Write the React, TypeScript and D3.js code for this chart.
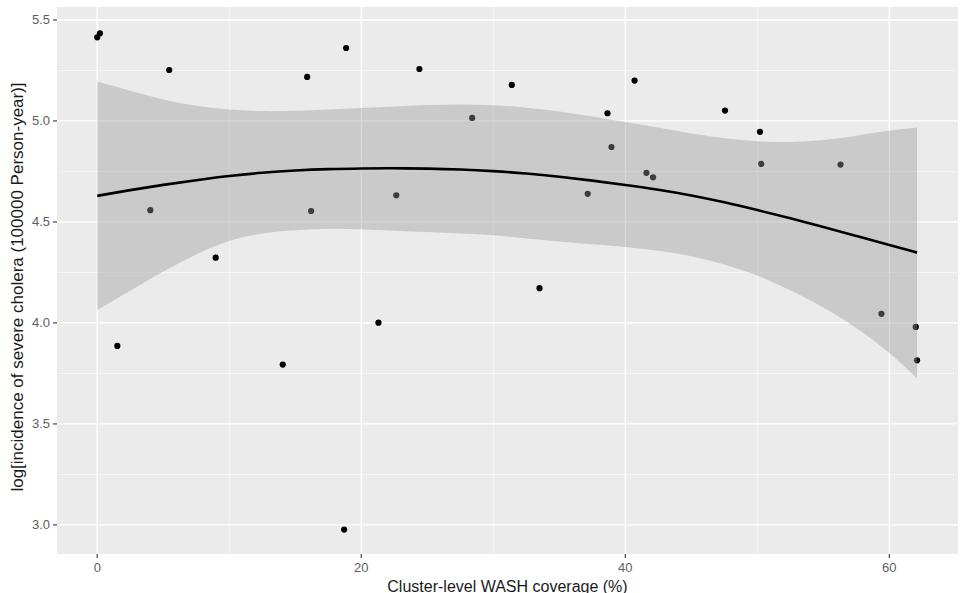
import React from "react";
import * as d3 from "d3";

// ---- data ----
const coverage = [0.0, 0.2, 1.52, 4.02, 5.45, 8.97, 14.05, 15.9, 16.2, 18.7, 18.85, 21.3, 22.65, 24.4, 28.4, 31.4, 33.5, 37.15, 38.65, 38.95, 40.7, 41.6, 42.1, 47.55, 50.2, 50.3, 56.3, 59.4, 62.0, 62.1];
const incidence = [5.414, 5.434, 3.886, 4.558, 5.252, 4.323, 3.794, 5.218, 4.554, 2.977, 5.361, 4.001, 4.632, 5.257, 5.015, 5.178, 4.172, 4.639, 5.038, 4.871, 5.2, 4.743, 4.721, 5.051, 4.946, 4.787, 4.784, 4.045, 3.98, 3.815];

const fitX = [0, 2.5, 5, 7.5, 10, 12.5, 15, 17.5, 20, 22.5, 25, 27.5, 30, 32.5, 35, 37.5, 40, 42.5, 45, 47.5, 50, 52.5, 55, 57.5, 60, 62.1];
const fitY = [4.629, 4.658, 4.684, 4.707, 4.728, 4.744, 4.755, 4.762, 4.765, 4.766, 4.764, 4.760, 4.752, 4.740, 4.724, 4.705, 4.683, 4.660, 4.632, 4.598, 4.559, 4.518, 4.475, 4.431, 4.386, 4.348];
const fitUpper = [5.195, 5.149, 5.104, 5.073, 5.054, 5.047, 5.050, 5.057, 5.063, 5.072, 5.079, 5.083, 5.079, 5.067, 5.047, 5.022, 4.995, 4.968, 4.936, 4.912, 4.898, 4.894, 4.903, 4.926, 4.953, 4.967];
const fitLower = [4.064, 4.158, 4.257, 4.342, 4.411, 4.446, 4.460, 4.468, 4.465, 4.455, 4.450, 4.443, 4.436, 4.418, 4.403, 4.389, 4.376, 4.359, 4.332, 4.292, 4.238, 4.163, 4.079, 3.978, 3.856, 3.726];

const xTicks = [0, 20, 40, 60];
const xMinor = [10, 30, 50];
const yTicks = [3.0, 3.5, 4.0, 4.5, 5.0, 5.5];
const yMinor = [3.25, 3.75, 4.25, 4.75, 5.25];

const xTitle = "Cluster-level WASH coverage (%)";
const yTitle = "log[incidence of severe cholera (100000 Person-year)]";

const W = 965, H = 593;
const P = { left: 57, right: 958, top: 7, bottom: 554 };

export default function App() {
  const x = d3.scaleLinear().domain([-3.05, 65.2]).range([P.left, P.right]);
  const y = d3.scaleLinear().domain([2.856, 5.564]).range([P.bottom, P.top]);

  const idx = fitX.map((_, i) => i);
  const area = d3
    .area<number>()
    .x((i) => x(fitX[i]))
    .y0((i) => y(fitLower[i]))
    .y1((i) => y(fitUpper[i]))
    .curve(d3.curveBasis);
  const line = d3
    .line<number>()
    .x((i) => x(fitX[i]))
    .y((i) => y(fitY[i]))
    .curve(d3.curveBasis);

  const font = "'Liberation Sans', Arial, Helvetica, sans-serif";
  const tickCol = "#5e5e5e";

  return (
    <svg width={W} height={H} style={{ position: "absolute", left: 0, top: 0, background: "#fff" }} fontFamily={font}>
      <rect x={P.left} y={P.top} width={P.right - P.left} height={P.bottom - P.top} fill="#EBEBEB" />
      {yMinor.map((v) => (
        <line key={"ym" + v} x1={P.left} x2={P.right} y1={y(v)} y2={y(v)} stroke="#fff" strokeWidth={0.7} opacity={0.85} />
      ))}
      {xMinor.map((v) => (
        <line key={"xm" + v} y1={P.top} y2={P.bottom} x1={x(v)} x2={x(v)} stroke="#fff" strokeWidth={0.7} opacity={0.85} />
      ))}
      {yTicks.map((v) => (
        <line key={"yM" + v} x1={P.left} x2={P.right} y1={y(v)} y2={y(v)} stroke="#fff" strokeWidth={1.4} />
      ))}
      {xTicks.map((v) => (
        <line key={"xM" + v} y1={P.top} y2={P.bottom} x1={x(v)} x2={x(v)} stroke="#fff" strokeWidth={1.4} />
      ))}

      {coverage.map((c, i) => (
        <circle key={"p" + i} cx={x(c)} cy={y(incidence[i])} r={3.1} fill="#000" />
      ))}

      <path d={area(idx) || ""} fill="#999999" fillOpacity={0.4} />
      <path d={line(idx) || ""} fill="none" stroke="#000" strokeWidth={2.6} />

      {yTicks.map((v) => (
        <g key={"yt" + v}>
          <line x1={P.left - 4} x2={P.left} y1={y(v)} y2={y(v)} stroke="#444" strokeWidth={1.2} />
          <text x={P.left - 7} y={y(v)} dy="0.35em" textAnchor="end" fontSize={13} fill={tickCol}>
            {v.toFixed(1)}
          </text>
        </g>
      ))}
      {xTicks.map((v) => (
        <g key={"xt" + v}>
          <line y1={P.bottom} y2={P.bottom + 4} x1={x(v)} x2={x(v)} stroke="#444" strokeWidth={1.2} />
          <text x={x(v)} y={572} textAnchor="middle" fontSize={13} fill={tickCol}>
            {v}
          </text>
        </g>
      ))}

      <text x={(P.left + P.right) / 2} y={591.5} textAnchor="middle" fontSize={16} fill="#1a1a1a">
        {xTitle}
      </text>
      <text transform={`translate(23,287) rotate(-90)`} textAnchor="middle" fontSize={17} fill="#1a1a1a">
        {yTitle}
      </text>
    </svg>
  );
}
